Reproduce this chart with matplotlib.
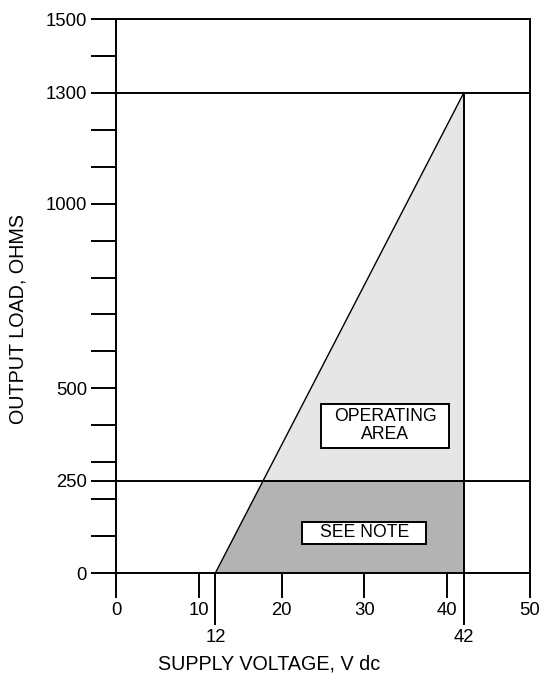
import matplotlib
matplotlib.use('Agg')
import matplotlib.pyplot as plt
from matplotlib.patches import Polygon, Rectangle

plt.rcParams['font.family'] = ['Liberation Sans', 'DejaVu Sans']

# supply voltage limits and load levels
v_min = 12
v_max = 42
load_max = 1300
load_note = 250

x_ticks = [0, 10, 20, 30, 40, 50]
x_ticks_long = [12, 42]
y_ticks = [0, 250, 500, 1000, 1300, 1500]
y_minor = [100, 200, 300, 400, 600, 700, 800, 900, 1100, 1200, 1400]

# label boxes: (x0, x1, y0, y1)
box_operating = (24.8, 40.2, 339, 458)
box_note = (22.5, 37.5, 79, 138)

lw = 1.4

fig = plt.figure(figsize=(5.42, 6.79), dpi=100)
ax = fig.add_axes([116 / 542, 1 - 573 / 679, 414 / 542, 554 / 679])
ax.set_xlim(0, 50)
ax.set_ylim(0, 1500)

for s in ax.spines.values():
    s.set_linewidth(lw)

# load line: R = (V - 12) * slope
slope = load_max / (v_max - v_min)
v_note = v_min + load_note / slope

upper = Polygon([(v_note, load_note), (v_max, load_note), (v_max, load_max)],
                closed=True, facecolor='#e6e6e6', edgecolor='none', zorder=1)
lower = Polygon([(v_min, 0), (v_max, 0), (v_max, load_note), (v_note, load_note)],
                closed=True, facecolor='#b3b3b3', edgecolor='none', zorder=1)
ax.add_patch(upper)
ax.add_patch(lower)
ax.plot([v_min, v_max], [0, load_max], color='black', lw=1.0, zorder=3)

ax.axhline(load_note, color='black', lw=lw, zorder=3)
ax.axhline(load_max, color='black', lw=lw, zorder=3)
ax.plot([v_max, v_max], [0, load_max], color='black', lw=lw, zorder=3)

# ticks
ax.set_xticks(x_ticks)
ax.set_xticks(x_ticks_long, minor=True)
ax.set_xticklabels([str(t) for t in x_ticks])
ax.set_xticklabels([str(t) for t in x_ticks_long], minor=True)
ax.tick_params(axis='x', which='major', direction='out', length=18, width=lw,
               pad=3, labelsize=13.3)
ax.tick_params(axis='x', which='minor', direction='out', length=37.5, width=lw,
               pad=3, labelsize=13.3)

ax.set_yticks(y_ticks)
ax.set_yticks(y_minor, minor=True)
ax.set_yticklabels([str(t) for t in y_ticks])
ax.tick_params(axis='y', which='major', direction='out', length=18, width=lw,
               pad=3, labelsize=13.3)
ax.tick_params(axis='y', which='minor', direction='out', length=18, width=lw)

ax.set_xlabel('SUPPLY VOLTAGE, V dc', fontsize=14.2)
ax.xaxis.set_label_coords(0.37, -0.148)
ax.set_ylabel('OUTPUT LOAD, OHMS', fontsize=14.2, labelpad=13)
ax.yaxis.label.set_y(0.458)

# text boxes
for (x0, x1, y0, y1), txt in [(box_operating, 'OPERATING\nAREA'),
                              (box_note, 'SEE NOTE')]:
    ax.add_patch(Rectangle((x0, y0), x1 - x0, y1 - y0, facecolor='white',
                           edgecolor='black', lw=lw, zorder=4))
    ax.text((x0 + x1) / 2, (y0 + y1) / 2, txt, ha='center', va='center',
            fontsize=12.7, linespacing=1.1, zorder=5)

fig.savefig('out.png', dpi=100)
